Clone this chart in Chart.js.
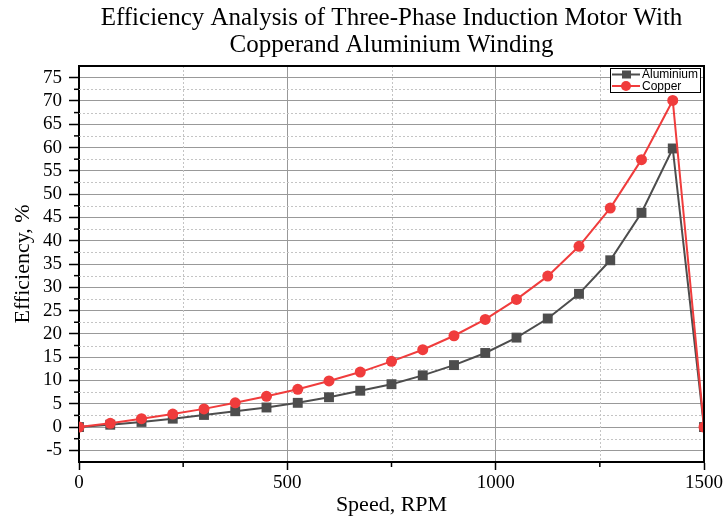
<!DOCTYPE html>
<html>
<head>
<meta charset="utf-8">
<script src="https://cdn.jsdelivr.net/npm/chart.js@4.4.1/dist/chart.umd.min.js"></script>
<style>
  html, body { margin: 0; padding: 0; background: #ffffff; }
  #wrap { width: 727px; height: 524px; }
</style>
</head>
<body>
<div id="wrap"><canvas id="motorChart" width="727" height="524"></canvas></div>
<script>
// Speed in RPM
const speed = [0, 75, 150, 225, 300, 375, 450, 525, 600, 675, 750, 825, 900, 975, 1050, 1125, 1200, 1275, 1350, 1425, 1500];
// Efficiency, %
const aluminium = [0, 0.5, 1.1, 1.8, 2.6, 3.4, 4.2, 5.2, 6.4, 7.8, 9.2, 11.1, 13.3, 15.9, 19.2, 23.3, 28.6, 35.8, 46.0, 59.8, 0];
const copper = [0, 0.8, 1.8, 2.8, 3.9, 5.2, 6.6, 8.1, 9.9, 11.8, 14.1, 16.6, 19.6, 23.1, 27.4, 32.4, 38.8, 47.0, 57.4, 70.1, 0];

const xTicks = [0, 500, 1000, 1500];
const xMinor = [250, 750, 1250];
const yTicks = [-5, 0, 5, 10, 15, 20, 25, 30, 35, 40, 45, 50, 55, 60, 65, 70, 75];
const yMinor = [-2.5, 2.5, 7.5, 12.5, 17.5, 22.5, 27.5, 32.5, 37.5, 42.5, 47.5, 52.5, 57.5, 62.5, 67.5, 72.5];

const SERIF = "'Liberation Serif', 'Times New Roman', serif";
const GRAY = "#4d4d4d";
const RED = "#f03c3c";

const toPoints = (ys) => speed.map((x, i) => ({ x: x, y: ys[i] }));

// dashed minor grid, minor ticks, plot frame and the boxed legend
const decorations = {
  id: "decorations",
  beforeDatasetsDraw(chart) {
    const { ctx, chartArea: a, scales: { x, y } } = chart;
    ctx.save();
    ctx.strokeStyle = "#c4c4c4";
    ctx.lineWidth = 1;
    ctx.setLineDash([2, 2]);
    xMinor.forEach((v) => {
      const px = Math.round(x.getPixelForValue(v)) + 0.5;
      ctx.beginPath();
      ctx.moveTo(px, a.top);
      ctx.lineTo(px, a.bottom);
      ctx.stroke();
    });
    yMinor.forEach((v) => {
      const py = Math.round(y.getPixelForValue(v)) + 0.5;
      ctx.beginPath();
      ctx.moveTo(a.left, py);
      ctx.lineTo(a.right, py);
      ctx.stroke();
    });
    ctx.restore();
  },
  afterDraw(chart) {
    const { ctx, chartArea: a, scales: { x, y } } = chart;
    ctx.save();
    ctx.strokeStyle = "#000000";
    ctx.lineWidth = 1.5;
    xMinor.forEach((v) => {
      const px = x.getPixelForValue(v);
      ctx.beginPath();
      ctx.moveTo(px, a.bottom);
      ctx.lineTo(px, a.bottom + 5);
      ctx.stroke();
    });
    yMinor.forEach((v) => {
      const py = y.getPixelForValue(v);
      ctx.beginPath();
      ctx.moveTo(a.left, py);
      ctx.lineTo(a.left - 5, py);
      ctx.stroke();
    });
    // top and right frame
    ctx.lineWidth = 2;
    ctx.beginPath();
    ctx.moveTo(a.left, a.top);
    ctx.lineTo(a.right, a.top);
    ctx.lineTo(a.right, a.bottom);
    ctx.stroke();

    // legend box
    const bx = 610, by = 68, bw = 90, bh = 24;
    ctx.fillStyle = "#ffffff";
    ctx.fillRect(bx, by, bw, bh);
    ctx.lineWidth = 1;
    ctx.strokeRect(bx + 0.5, by + 0.5, bw, bh);
    const rows = [
      { label: "Aluminium", color: GRAY, style: "rect", y: by + 6.5 },
      { label: "Copper", color: RED, style: "circle", y: by + 18 },
    ];
    ctx.font = "12px 'Liberation Sans', Arial, sans-serif";
    ctx.textBaseline = "middle";
    rows.forEach((r) => {
      ctx.strokeStyle = r.color;
      ctx.lineWidth = 2;
      ctx.beginPath();
      ctx.moveTo(bx + 2, r.y);
      ctx.lineTo(bx + 30, r.y);
      ctx.stroke();
      ctx.fillStyle = r.color;
      if (r.style === "rect") {
        ctx.fillRect(bx + 12, r.y - 4, 9, 8);
      } else {
        ctx.beginPath();
        ctx.arc(bx + 16, r.y, 5, 0, Math.PI * 2);
        ctx.fill();
      }
      ctx.fillStyle = "#000000";
      ctx.fillText(r.label, bx + 32, r.y + 0.5);
    });
    ctx.restore();
  },
};

const ctx = document.getElementById("motorChart").getContext("2d");

new Chart(ctx, {
  type: "line",
  data: {
    datasets: [
      {
        label: "Aluminium",
        data: toPoints(aluminium),
        borderColor: GRAY,
        backgroundColor: GRAY,
        borderWidth: 2,
        pointStyle: "rect",
        pointRadius: 7,
        pointBorderWidth: 0,
        order: 1,
        clip: 0,
      },
      {
        label: "Copper",
        data: toPoints(copper),
        borderColor: RED,
        backgroundColor: RED,
        borderWidth: 2,
        pointStyle: "circle",
        pointRadius: 5.5,
        pointBorderWidth: 0,
        order: 0,
        clip: 0,
      },
    ],
  },
  options: {
    responsive: false,
    animation: false,
    layout: { padding: { left: 0, right: 23, top: 0, bottom: 0 } },
    plugins: {
      legend: { display: false },
      tooltip: { enabled: false },
      title: {
        display: true,
        fullSize: false,
        text: ["Efficiency Analysis of Three-Phase Induction Motor With", "Copperand Aluminium Winding"],
        color: "#000000",
        font: { family: SERIF, size: 25, weight: "normal", lineHeight: "27px" },
        padding: { top: 5, bottom: 7 },
      },
    },
    scales: {
      x: {
        type: "linear",
        min: 0,
        max: 1500,
        afterBuildTicks: (scale) => { scale.ticks = xTicks.map((v) => ({ value: v })); },
        afterFit: (scale) => { scale.height = 62; },
        ticks: {
          color: "#000000",
          font: { family: SERIF, size: 19 },
          padding: 2,
          maxRotation: 0,
          autoSkip: false,
          callback: (value) => String(value),
        },
        grid: { color: "#999999", lineWidth: 1, tickColor: "#000000", tickLength: 8, tickWidth: 1.5 },
        border: { color: "#000000", width: 2 },
        title: {
          display: true,
          text: "Speed, RPM",
          color: "#000000",
          font: { family: SERIF, size: 22 },
          padding: { top: 0, bottom: 6 },
        },
      },
      y: {
        min: -7.5,
        max: 77.5,
        afterBuildTicks: (scale) => { scale.ticks = yTicks.map((v) => ({ value: v })); },
        afterFit: (scale) => { scale.width = 79; },
        ticks: { color: "#000000", font: { family: SERIF, size: 19 }, padding: 7, autoSkip: false },
        grid: { color: "#999999", lineWidth: 1, tickColor: "#000000", tickLength: 10, tickWidth: 1.5 },
        border: { color: "#000000", width: 2 },
        title: {
          display: true,
          text: "Efficiency, %",
          color: "#000000",
          font: { family: SERIF, size: 22 },
          padding: { top: 10, bottom: 0 },
        },
      },
    },
  },
  plugins: [decorations],
});
</script>
</body>
</html>
